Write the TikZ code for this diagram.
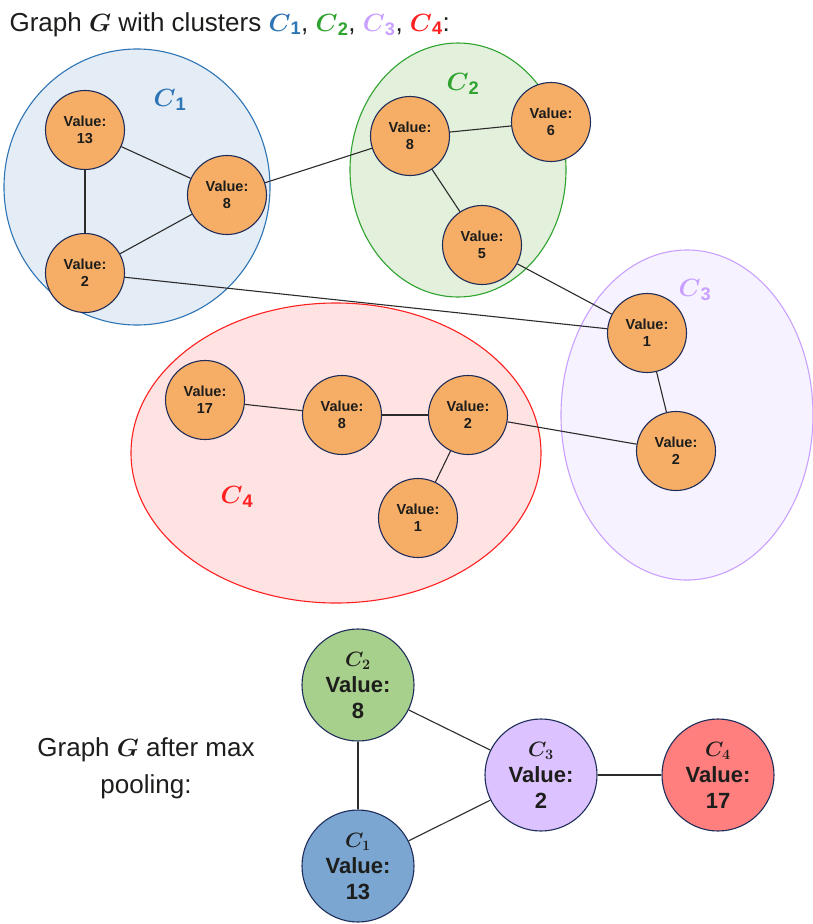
\documentclass[tikz,border=0pt]{standalone}
\usepackage{amsmath,amssymb}
\usepackage{fontspec}
\setmainfont{Liberation Sans}
\usepackage{tikz}
\usetikzlibrary{positioning,calc}
\definecolor{ink}{HTML}{1D1D1B}
\definecolor{edgec}{HTML}{2B2B2B}
\definecolor{navy}{HTML}{1F2D5A}
\definecolor{orng}{HTML}{F6AE66}
\definecolor{cone}{HTML}{2E75B6}
\definecolor{ctwo}{HTML}{2FA32F}
\definecolor{cthree}{HTML}{C9A0FF}
\definecolor{cfour}{HTML}{FF2020}
\definecolor{onefill}{HTML}{E4ECF5}
\definecolor{twofill}{HTML}{E2F0DC}
\definecolor{threefill}{HTML}{F7F2FF}
\definecolor{fourfill}{HTML}{FFE3E3}
\definecolor{onepool}{HTML}{7AA6D1}
\definecolor{twopool}{HTML}{A8D08D}
\definecolor{threepool}{HTML}{DCC3FF}
\definecolor{fourpool}{HTML}{FF7F7F}
\newcommand{\clname}[1]{\boldsymbol{C}_{\mathbf{#1}}}
\tikzset{
  clus/.style={fill=#1fill, draw=c#1, line width=1.1pt},
  val/.style={circle, minimum size=79pt, inner sep=0pt, fill=orng, draw=navy, line width=1.1pt,
    align=center, text=ink, font=\fontsize{14.5}{17}\selectfont\bfseries},
  pool/.style={circle, minimum size=112pt, inner sep=0pt, fill=#1pool, draw=navy, line width=1.1pt,
    align=center, text=ink, font=\fontsize{22}{26}\selectfont\bfseries},
  link/.style={draw=edgec, line width=1.1pt},
  clab/.style={font=\fontsize{26}{30}\selectfont},
  txt/.style={font=\fontsize{26}{37}\selectfont, text=ink, align=center},
}

\begin{document}
\begin{tikzpicture}[x=1pt, y=-1pt]
    \useasboundingbox (0,0) rectangle (812,924);
    % clusters
    \draw[clus=one] (137,187) ellipse [x radius=133, y radius=138];
    \draw[clus=two] (458,170) ellipse [x radius=108, y radius=127];
    \draw[clus=three] (687,415) ellipse [x radius=126, y radius=165];
    \draw[clus=four] (336,453) ellipse [x radius=205, y radius=150];
    \node[clab, text=cone] (l1) at (170,100) {$\clname{1}$};
    \node[clab, text=ctwo] (l2) at (463,84) {$\clname{2}$};
    \node[clab, text=cthree] (l3) at (695,290) {$\clname{3}$};
    \node[clab, text=cfour] (l4) at (237,497) {$\clname{4}$};
    \node[txt, anchor=base west] (title) at (6,31)
      {Graph $\boldsymbol{G}$ with clusters $\color{cone}\clname{1}$, $\color{ctwo}\clname{2}$, $\color{cthree}\clname{3}$, $\color{cfour}\clname{4}$:};
    % graph G
    \foreach \n/\x/\y/\v in {a/85/130/13, b/227/195/8, c/85/273/2,
        d/410/136/8, e/551/122/6, f/482/245/5,
        g/647/333/1, h/676/451/2,
        i/205/400/17, j/342/415/8, k/468/415/2, m/418/518/1}
      \node[val] (\n) at (\x,\y) {Value:\\\v};
    \foreach \p/\q in {a/b, a/c, c/b, b/d, d/e, d/f, f/g, c/g, g/h, i/j, j/k, k/m, k/h}
      \draw[link] (\p) -- (\q);
    % after pooling
    \node[txt] (after) at (146,768) {Graph $\boldsymbol{G}$ after max\\pooling:};
    \node[pool=two] (p2) at (358,685) {$\boldsymbol{C_2}$\\Value:\\8};
    \node[pool=one] (p1) at (358,866) {$\boldsymbol{C_1}$\\Value:\\13};
    \node[pool=three] (p3) at (541,775) {$\boldsymbol{C_3}$\\Value:\\2};
    \node[pool=four] (p4) at (718,775) {$\boldsymbol{C_4}$\\Value:\\17};
    \foreach \p/\q in {p2/p1, p2/p3, p1/p3, p3/p4}
      \draw[link] (\p) -- (\q);
\end{tikzpicture}
\end{document}
